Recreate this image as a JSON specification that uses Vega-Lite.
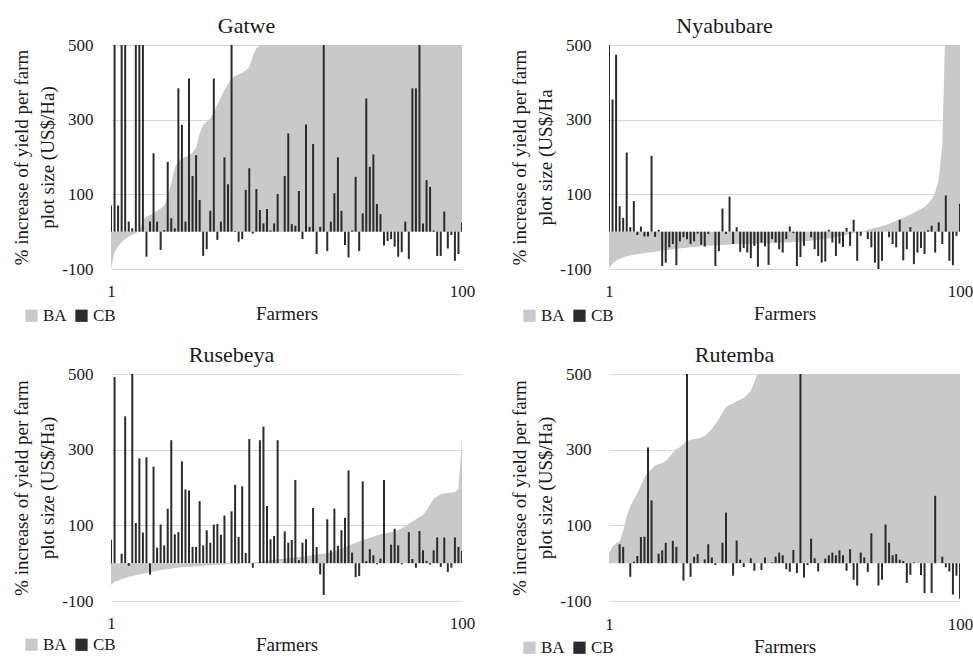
{
  "$schema": "https://vega.github.io/schema/vega-lite/v6.json",
  "padding": {"left": 12, "top": 15, "right": 0, "bottom": 0},
  "background": "white",
  "datasets": {
    "gatwe": [
      {"farmer": 1, "BA": -100, "CB": 70}, {"farmer": 2, "BA": -55, "CB": 620}, {"farmer": 3, "BA": -40, "CB": 70}, {"farmer": 4, "BA": -28, "CB": 620}, {"farmer": 5, "BA": -20, "CB": 620},
      {"farmer": 6, "BA": -13, "CB": 27}, {"farmer": 7, "BA": -8, "CB": 9}, {"farmer": 8, "BA": -4, "CB": 620}, {"farmer": 9, "BA": 1, "CB": 620}, {"farmer": 10, "BA": 31, "CB": 620},
      {"farmer": 11, "BA": 40, "CB": -67}, {"farmer": 12, "BA": 44, "CB": 27}, {"farmer": 13, "BA": 49, "CB": 210}, {"farmer": 14, "BA": 56, "CB": 27}, {"farmer": 15, "BA": 62, "CB": -49},
      {"farmer": 16, "BA": 70, "CB": 4}, {"farmer": 17, "BA": 95, "CB": 187}, {"farmer": 18, "BA": 130, "CB": 36}, {"farmer": 19, "BA": 172, "CB": 9}, {"farmer": 20, "BA": 188, "CB": 384},
      {"farmer": 21, "BA": 195, "CB": 286}, {"farmer": 22, "BA": 200, "CB": 27}, {"farmer": 23, "BA": 204, "CB": 410}, {"farmer": 24, "BA": 212, "CB": 149}, {"farmer": 25, "BA": 225, "CB": 205},
      {"farmer": 26, "BA": 262, "CB": 85}, {"farmer": 27, "BA": 286, "CB": -65}, {"farmer": 28, "BA": 295, "CB": -47}, {"farmer": 29, "BA": 304, "CB": 56}, {"farmer": 30, "BA": 322, "CB": 410},
      {"farmer": 31, "BA": 340, "CB": -22}, {"farmer": 32, "BA": 360, "CB": 27}, {"farmer": 33, "BA": 380, "CB": 199}, {"farmer": 34, "BA": 395, "CB": 127}, {"farmer": 35, "BA": 410, "CB": 620},
      {"farmer": 36, "BA": 417, "CB": 2}, {"farmer": 37, "BA": 421, "CB": -27}, {"farmer": 38, "BA": 425, "CB": -20}, {"farmer": 39, "BA": 432, "CB": 112}, {"farmer": 40, "BA": 441, "CB": 170},
      {"farmer": 41, "BA": 470, "CB": -5}, {"farmer": 42, "BA": 492, "CB": 114}, {"farmer": 43, "BA": 498, "CB": 58}, {"farmer": 44, "BA": 510, "CB": 22}, {"farmer": 45, "BA": 525, "CB": 61},
      {"farmer": 46, "BA": 540, "CB": 3}, {"farmer": 47, "BA": 560, "CB": 22}, {"farmer": 48, "BA": 580, "CB": 101}, {"farmer": 49, "BA": 600, "CB": 0}, {"farmer": 50, "BA": 620, "CB": 149},
      {"farmer": 51, "BA": 640, "CB": 263}, {"farmer": 52, "BA": 660, "CB": 20}, {"farmer": 53, "BA": 680, "CB": 16}, {"farmer": 54, "BA": 700, "CB": 109}, {"farmer": 55, "BA": 720, "CB": -20},
      {"farmer": 56, "BA": 740, "CB": 287}, {"farmer": 57, "BA": 760, "CB": 13}, {"farmer": 58, "BA": 780, "CB": 235}, {"farmer": 59, "BA": 800, "CB": -60}, {"farmer": 60, "BA": 830, "CB": 13},
      {"farmer": 61, "BA": 860, "CB": 620}, {"farmer": 62, "BA": 890, "CB": -52}, {"farmer": 63, "BA": 920, "CB": 27}, {"farmer": 64, "BA": 950, "CB": 103}, {"farmer": 65, "BA": 980, "CB": 199},
      {"farmer": 66, "BA": 1010, "CB": 56}, {"farmer": 67, "BA": 1040, "CB": -36}, {"farmer": 68, "BA": 1070, "CB": -69}, {"farmer": 69, "BA": 1100, "CB": 3}, {"farmer": 70, "BA": 1150, "CB": 147},
      {"farmer": 71, "BA": 1200, "CB": -52}, {"farmer": 72, "BA": 1250, "CB": 49}, {"farmer": 73, "BA": 1300, "CB": 357}, {"farmer": 74, "BA": 1350, "CB": 174}, {"farmer": 75, "BA": 1400, "CB": 207},
      {"farmer": 76, "BA": 1450, "CB": 74}, {"farmer": 77, "BA": 1500, "CB": 47}, {"farmer": 78, "BA": 1550, "CB": -37}, {"farmer": 79, "BA": 1600, "CB": -25}, {"farmer": 80, "BA": 1700, "CB": -20},
      {"farmer": 81, "BA": 1800, "CB": -40}, {"farmer": 82, "BA": 1900, "CB": -67}, {"farmer": 83, "BA": 2000, "CB": -55}, {"farmer": 84, "BA": 2100, "CB": 27}, {"farmer": 85, "BA": 2200, "CB": -73},
      {"farmer": 86, "BA": 2300, "CB": 384}, {"farmer": 87, "BA": 2400, "CB": 384}, {"farmer": 88, "BA": 2500, "CB": 620}, {"farmer": 89, "BA": 2600, "CB": 22}, {"farmer": 90, "BA": 2800, "CB": 138},
      {"farmer": 91, "BA": 3000, "CB": 120}, {"farmer": 92, "BA": 3200, "CB": 3}, {"farmer": 93, "BA": 3400, "CB": -65}, {"farmer": 94, "BA": 3600, "CB": -65}, {"farmer": 95, "BA": 3800, "CB": 54},
      {"farmer": 96, "BA": 4000, "CB": -45}, {"farmer": 97, "BA": 4500, "CB": -9}, {"farmer": 98, "BA": 5000, "CB": -78}, {"farmer": 99, "BA": 5500, "CB": -60}, {"farmer": 100, "BA": 6000, "CB": 24}
    ],
    "nyabubare": [
      {"farmer": 1, "BA": -98, "CB": 505}, {"farmer": 2, "BA": -85, "CB": 354}, {"farmer": 3, "BA": -78, "CB": 474}, {"farmer": 4, "BA": -73, "CB": 68}, {"farmer": 5, "BA": -69, "CB": 37},
      {"farmer": 6, "BA": -66, "CB": 212}, {"farmer": 7, "BA": -64, "CB": 12}, {"farmer": 8, "BA": -62, "CB": 82}, {"farmer": 9, "BA": -60, "CB": -9}, {"farmer": 10, "BA": -59, "CB": 14},
      {"farmer": 11, "BA": -57, "CB": -13}, {"farmer": 12, "BA": -56, "CB": -13}, {"farmer": 13, "BA": -55, "CB": 203}, {"farmer": 14, "BA": -54, "CB": -14}, {"farmer": 15, "BA": -52, "CB": 5},
      {"farmer": 16, "BA": -51, "CB": -92}, {"farmer": 17, "BA": -50, "CB": -83}, {"farmer": 18, "BA": -49, "CB": -42}, {"farmer": 19, "BA": -47, "CB": -33}, {"farmer": 20, "BA": -46, "CB": -90},
      {"farmer": 21, "BA": -45, "CB": -26}, {"farmer": 22, "BA": -44, "CB": -15}, {"farmer": 23, "BA": -43, "CB": -20}, {"farmer": 24, "BA": -42, "CB": -33}, {"farmer": 25, "BA": -41, "CB": -26},
      {"farmer": 26, "BA": -40, "CB": -5}, {"farmer": 27, "BA": -39, "CB": -35}, {"farmer": 28, "BA": -38, "CB": -40}, {"farmer": 29, "BA": -38, "CB": -6}, {"farmer": 30, "BA": -37, "CB": 0},
      {"farmer": 31, "BA": -37, "CB": -92}, {"farmer": 32, "BA": -36, "CB": -52}, {"farmer": 33, "BA": -36, "CB": 62}, {"farmer": 34, "BA": -35, "CB": -6}, {"farmer": 35, "BA": -35, "CB": 94},
      {"farmer": 36, "BA": -34, "CB": -33}, {"farmer": 37, "BA": -34, "CB": 12}, {"farmer": 38, "BA": -33, "CB": -54}, {"farmer": 39, "BA": -33, "CB": -44}, {"farmer": 40, "BA": -33, "CB": -56},
      {"farmer": 41, "BA": -32, "CB": -71}, {"farmer": 42, "BA": -32, "CB": -38}, {"farmer": 43, "BA": -32, "CB": -94}, {"farmer": 44, "BA": -31, "CB": -29}, {"farmer": 45, "BA": -31, "CB": -40},
      {"farmer": 46, "BA": -31, "CB": -89}, {"farmer": 47, "BA": -30, "CB": -20}, {"farmer": 48, "BA": -30, "CB": -29}, {"farmer": 49, "BA": -30, "CB": -47}, {"farmer": 50, "BA": -29, "CB": -56},
      {"farmer": 51, "BA": -29, "CB": -20}, {"farmer": 52, "BA": -29, "CB": 14}, {"farmer": 53, "BA": -28, "CB": -4}, {"farmer": 54, "BA": -28, "CB": -92}, {"farmer": 55, "BA": -27, "CB": -68},
      {"farmer": 56, "BA": -26, "CB": -38}, {"farmer": 57, "BA": -25, "CB": 0}, {"farmer": 58, "BA": -24, "CB": -15}, {"farmer": 59, "BA": -23, "CB": -47}, {"farmer": 60, "BA": -22, "CB": -65},
      {"farmer": 61, "BA": -21, "CB": -83}, {"farmer": 62, "BA": -20, "CB": -80}, {"farmer": 63, "BA": -18, "CB": 5}, {"farmer": 64, "BA": -16, "CB": -29}, {"farmer": 65, "BA": -14, "CB": -65},
      {"farmer": 66, "BA": -12, "CB": -32}, {"farmer": 67, "BA": -10, "CB": -41}, {"farmer": 68, "BA": -8, "CB": 10}, {"farmer": 69, "BA": -6, "CB": -38}, {"farmer": 70, "BA": -4, "CB": 32},
      {"farmer": 71, "BA": -2, "CB": -78}, {"farmer": 72, "BA": 0, "CB": -11}, {"farmer": 73, "BA": 2, "CB": 0}, {"farmer": 74, "BA": 5, "CB": -20}, {"farmer": 75, "BA": 8, "CB": -42},
      {"farmer": 76, "BA": 10, "CB": -83}, {"farmer": 77, "BA": 12, "CB": -100}, {"farmer": 78, "BA": 15, "CB": -78}, {"farmer": 79, "BA": 18, "CB": 0}, {"farmer": 80, "BA": 21, "CB": -15},
      {"farmer": 81, "BA": 25, "CB": -33}, {"farmer": 82, "BA": 29, "CB": -42}, {"farmer": 83, "BA": 33, "CB": 32}, {"farmer": 84, "BA": 37, "CB": -77}, {"farmer": 85, "BA": 42, "CB": -47},
      {"farmer": 86, "BA": 46, "CB": 12}, {"farmer": 87, "BA": 51, "CB": -87}, {"farmer": 88, "BA": 56, "CB": -56}, {"farmer": 89, "BA": 61, "CB": -44}, {"farmer": 90, "BA": 67, "CB": -60},
      {"farmer": 91, "BA": 75, "CB": 4}, {"farmer": 92, "BA": 86, "CB": 16}, {"farmer": 93, "BA": 105, "CB": -56}, {"farmer": 94, "BA": 140, "CB": 25}, {"farmer": 95, "BA": 230, "CB": -33},
      {"farmer": 96, "BA": 600, "CB": 97}, {"farmer": 97, "BA": 900, "CB": -78}, {"farmer": 98, "BA": 1100, "CB": -90}, {"farmer": 99, "BA": 1300, "CB": -11}, {"farmer": 100, "BA": 1500, "CB": 75}
    ],
    "rusebeya": [
      {"farmer": 1, "BA": -58, "CB": 62}, {"farmer": 2, "BA": -50, "CB": 492}, {"farmer": 3, "BA": -46, "CB": 0}, {"farmer": 4, "BA": -42, "CB": 25}, {"farmer": 5, "BA": -39, "CB": 388},
      {"farmer": 6, "BA": -36, "CB": -7}, {"farmer": 7, "BA": -34, "CB": 505}, {"farmer": 8, "BA": -32, "CB": 106}, {"farmer": 9, "BA": -30, "CB": 277}, {"farmer": 10, "BA": -28, "CB": 81},
      {"farmer": 11, "BA": -26, "CB": 280}, {"farmer": 12, "BA": -24, "CB": -30}, {"farmer": 13, "BA": -22, "CB": 255}, {"farmer": 14, "BA": -20, "CB": 41}, {"farmer": 15, "BA": -18, "CB": 102},
      {"farmer": 16, "BA": -17, "CB": 47}, {"farmer": 17, "BA": -16, "CB": 144}, {"farmer": 18, "BA": -15, "CB": 325}, {"farmer": 19, "BA": -13, "CB": 76}, {"farmer": 20, "BA": -12, "CB": 82},
      {"farmer": 21, "BA": -11, "CB": 269}, {"farmer": 22, "BA": -10, "CB": 195}, {"farmer": 23, "BA": -10, "CB": 192}, {"farmer": 24, "BA": -9, "CB": 43}, {"farmer": 25, "BA": -8, "CB": 43},
      {"farmer": 26, "BA": -8, "CB": 164}, {"farmer": 27, "BA": -7, "CB": 47}, {"farmer": 28, "BA": -6, "CB": 87}, {"farmer": 29, "BA": -6, "CB": 54}, {"farmer": 30, "BA": -5, "CB": 102},
      {"farmer": 31, "BA": -5, "CB": 104}, {"farmer": 32, "BA": -4, "CB": 75}, {"farmer": 33, "BA": -4, "CB": 126}, {"farmer": 34, "BA": -3, "CB": 0}, {"farmer": 35, "BA": -3, "CB": 137},
      {"farmer": 36, "BA": -2, "CB": 207}, {"farmer": 37, "BA": -2, "CB": 69}, {"farmer": 38, "BA": -1, "CB": 203}, {"farmer": 39, "BA": 0, "CB": 27}, {"farmer": 40, "BA": 1, "CB": 328},
      {"farmer": 41, "BA": 2, "CB": -12}, {"farmer": 42, "BA": 3, "CB": 0}, {"farmer": 43, "BA": 4, "CB": 325}, {"farmer": 44, "BA": 6, "CB": 361}, {"farmer": 45, "BA": 7, "CB": 151},
      {"farmer": 46, "BA": 8, "CB": 63}, {"farmer": 47, "BA": 9, "CB": 72}, {"farmer": 48, "BA": 10, "CB": 325}, {"farmer": 49, "BA": 11, "CB": 0}, {"farmer": 50, "BA": 12, "CB": 84},
      {"farmer": 51, "BA": 13, "CB": 54}, {"farmer": 52, "BA": 14, "CB": 61}, {"farmer": 53, "BA": 15, "CB": 220}, {"farmer": 54, "BA": 16, "CB": 8}, {"farmer": 55, "BA": 17, "CB": 54},
      {"farmer": 56, "BA": 18, "CB": 63}, {"farmer": 57, "BA": 20, "CB": 0}, {"farmer": 58, "BA": 21, "CB": 146}, {"farmer": 59, "BA": 23, "CB": 43}, {"farmer": 60, "BA": 24, "CB": -30},
      {"farmer": 61, "BA": 25, "CB": -84}, {"farmer": 62, "BA": 27, "CB": 116}, {"farmer": 63, "BA": 28, "CB": 34}, {"farmer": 64, "BA": 31, "CB": 144}, {"farmer": 65, "BA": 35, "CB": 46},
      {"farmer": 66, "BA": 39, "CB": 87}, {"farmer": 67, "BA": 42, "CB": 120}, {"farmer": 68, "BA": 46, "CB": 245}, {"farmer": 69, "BA": 50, "CB": 28}, {"farmer": 70, "BA": 54, "CB": -37},
      {"farmer": 71, "BA": 57, "CB": -34}, {"farmer": 72, "BA": 61, "CB": 216}, {"farmer": 73, "BA": 64, "CB": 6}, {"farmer": 74, "BA": 67, "CB": 37}, {"farmer": 75, "BA": 70, "CB": 21},
      {"farmer": 76, "BA": 73, "CB": -3}, {"farmer": 77, "BA": 76, "CB": 12}, {"farmer": 78, "BA": 78, "CB": 220}, {"farmer": 79, "BA": 80, "CB": 0}, {"farmer": 80, "BA": 82, "CB": 49},
      {"farmer": 81, "BA": 85, "CB": 91}, {"farmer": 82, "BA": 87, "CB": 47}, {"farmer": 83, "BA": 92, "CB": -3}, {"farmer": 84, "BA": 98, "CB": 0}, {"farmer": 85, "BA": 104, "CB": 82},
      {"farmer": 86, "BA": 110, "CB": 11}, {"farmer": 87, "BA": 116, "CB": -12}, {"farmer": 88, "BA": 122, "CB": 85}, {"farmer": 89, "BA": 128, "CB": 34}, {"farmer": 90, "BA": 140, "CB": 6},
      {"farmer": 91, "BA": 155, "CB": -4}, {"farmer": 92, "BA": 170, "CB": 34}, {"farmer": 93, "BA": 176, "CB": 68}, {"farmer": 94, "BA": 182, "CB": -10}, {"farmer": 95, "BA": 184, "CB": 68},
      {"farmer": 96, "BA": 186, "CB": -23}, {"farmer": 97, "BA": 187, "CB": -12}, {"farmer": 98, "BA": 188, "CB": 68}, {"farmer": 99, "BA": 196, "CB": 43}, {"farmer": 100, "BA": 330, "CB": 32}
    ],
    "rutemba": [
      {"farmer": 1, "BA": 24, "CB": 0}, {"farmer": 2, "BA": 45, "CB": 0}, {"farmer": 3, "BA": 52, "CB": 0}, {"farmer": 4, "BA": 58, "CB": 50}, {"farmer": 5, "BA": 85, "CB": 43},
      {"farmer": 6, "BA": 125, "CB": 0}, {"farmer": 7, "BA": 150, "CB": -36}, {"farmer": 8, "BA": 168, "CB": 4}, {"farmer": 9, "BA": 185, "CB": 19}, {"farmer": 10, "BA": 205, "CB": 69},
      {"farmer": 11, "BA": 227, "CB": 70}, {"farmer": 12, "BA": 238, "CB": 306}, {"farmer": 13, "BA": 248, "CB": 166}, {"farmer": 14, "BA": 258, "CB": 0}, {"farmer": 15, "BA": 262, "CB": 25},
      {"farmer": 16, "BA": 265, "CB": 34}, {"farmer": 17, "BA": 270, "CB": 54}, {"farmer": 18, "BA": 280, "CB": 0}, {"farmer": 19, "BA": 292, "CB": 59}, {"farmer": 20, "BA": 302, "CB": 43},
      {"farmer": 21, "BA": 307, "CB": 0}, {"farmer": 22, "BA": 315, "CB": -46}, {"farmer": 23, "BA": 322, "CB": 620}, {"farmer": 24, "BA": 326, "CB": -36}, {"farmer": 25, "BA": 328, "CB": 17},
      {"farmer": 26, "BA": 329, "CB": 24}, {"farmer": 27, "BA": 332, "CB": 0}, {"farmer": 28, "BA": 336, "CB": 10}, {"farmer": 29, "BA": 345, "CB": 50}, {"farmer": 30, "BA": 355, "CB": 15},
      {"farmer": 31, "BA": 368, "CB": -5}, {"farmer": 32, "BA": 382, "CB": 0}, {"farmer": 33, "BA": 398, "CB": 54}, {"farmer": 34, "BA": 412, "CB": 134}, {"farmer": 35, "BA": 418, "CB": 0},
      {"farmer": 36, "BA": 422, "CB": -33}, {"farmer": 37, "BA": 428, "CB": 60}, {"farmer": 38, "BA": 432, "CB": 9}, {"farmer": 39, "BA": 437, "CB": -10}, {"farmer": 40, "BA": 445, "CB": 0},
      {"farmer": 41, "BA": 456, "CB": 13}, {"farmer": 42, "BA": 478, "CB": -20}, {"farmer": 43, "BA": 505, "CB": 0}, {"farmer": 44, "BA": 520, "CB": -18}, {"farmer": 45, "BA": 540, "CB": 15},
      {"farmer": 46, "BA": 560, "CB": 0}, {"farmer": 47, "BA": 580, "CB": 2}, {"farmer": 48, "BA": 600, "CB": 17}, {"farmer": 49, "BA": 620, "CB": 28}, {"farmer": 50, "BA": 640, "CB": 21},
      {"farmer": 51, "BA": 660, "CB": -16}, {"farmer": 52, "BA": 680, "CB": -23}, {"farmer": 53, "BA": 700, "CB": 35}, {"farmer": 54, "BA": 720, "CB": -26}, {"farmer": 55, "BA": 740, "CB": 620},
      {"farmer": 56, "BA": 760, "CB": -38}, {"farmer": 57, "BA": 780, "CB": -5}, {"farmer": 58, "BA": 800, "CB": 65}, {"farmer": 59, "BA": 830, "CB": 13}, {"farmer": 60, "BA": 860, "CB": -22},
      {"farmer": 61, "BA": 890, "CB": 0}, {"farmer": 62, "BA": 920, "CB": 12}, {"farmer": 63, "BA": 950, "CB": 21}, {"farmer": 64, "BA": 980, "CB": 28}, {"farmer": 65, "BA": 1010, "CB": 21},
      {"farmer": 66, "BA": 1040, "CB": 34}, {"farmer": 67, "BA": 1070, "CB": 21}, {"farmer": 68, "BA": 1100, "CB": -20}, {"farmer": 69, "BA": 1150, "CB": 37}, {"farmer": 70, "BA": 1200, "CB": -44},
      {"farmer": 71, "BA": 1250, "CB": -59}, {"farmer": 72, "BA": 1300, "CB": 28}, {"farmer": 73, "BA": 1350, "CB": 15}, {"farmer": 74, "BA": 1400, "CB": -23}, {"farmer": 75, "BA": 1450, "CB": 79},
      {"farmer": 76, "BA": 1500, "CB": 0}, {"farmer": 77, "BA": 1550, "CB": -59}, {"farmer": 78, "BA": 1600, "CB": -44}, {"farmer": 79, "BA": 1700, "CB": 102}, {"farmer": 80, "BA": 1800, "CB": 54},
      {"farmer": 81, "BA": 1900, "CB": 21}, {"farmer": 82, "BA": 2000, "CB": 24}, {"farmer": 83, "BA": 2100, "CB": 9}, {"farmer": 84, "BA": 2200, "CB": 6}, {"farmer": 85, "BA": 2300, "CB": -52},
      {"farmer": 86, "BA": 2400, "CB": -31}, {"farmer": 87, "BA": 2500, "CB": 2}, {"farmer": 88, "BA": 2600, "CB": 0}, {"farmer": 89, "BA": 2800, "CB": -31}, {"farmer": 90, "BA": 3000, "CB": -79},
      {"farmer": 91, "BA": 3200, "CB": 0}, {"farmer": 92, "BA": 3400, "CB": -79}, {"farmer": 93, "BA": 3600, "CB": 178}, {"farmer": 94, "BA": 3800, "CB": 0}, {"farmer": 95, "BA": 4000, "CB": 17},
      {"farmer": 96, "BA": 4500, "CB": -11}, {"farmer": 97, "BA": 5000, "CB": -22}, {"farmer": 98, "BA": 5500, "CB": -83}, {"farmer": 99, "BA": 6000, "CB": -33}, {"farmer": 100, "BA": 6500, "CB": -94}
    ]
  },
  "columns": 2,
  "spacing": {"row": 20, "column": 35},
  "resolve": {"scale": {"color": "independent"}, "legend": {"color": "independent"}},
  "concat": [
    {
      "title": {"text": "Gatwe", "dx": -40},
      "width": 351,
      "height": 224,
      "data": {"name": "gatwe"},
      "encoding": {
        "x": {"field": "farmer", "type": "quantitative", "scale": {"domain": [1, 100], "nice": false, "zero": false, "padding": 0},
          "axis": {"values": [1, 100], "title": "Farmers", "grid": false, "domain": false, "ticks": false, "labelFlush": false, "labelPadding": 14, "titlePadding": 5}}
      },
      "layer": [
        {
          "mark": {"type": "area", "clip": true},
          "encoding": {
            "y": {"field": "BA", "type": "quantitative", "scale": {"domain": [-100, 500], "nice": false, "padding": 0},
              "axis": {"values": [-100, 100, 300, 500], "labelExpr": "'' + datum.value", "title": ["% increase of yield per farm", "plot size (US$/Ha)"], "ticks": false, "domain": false, "labelPadding": 18, "titlePadding": 4, "titleLineHeight": 26}},
            "color": {"datum": "BA", "scale": {"domain": ["BA", "CB"], "range": ["#c9c9c9", "#2b2b2b"]},
              "legend": {"orient": "none", "legendX": -88, "legendY": 262, "direction": "horizontal", "title": null}}
          }
        },
        {
          "mark": {"type": "bar", "clip": true, "width": 2},
          "encoding": {
            "y": {"field": "CB", "type": "quantitative"},
            "y2": {"datum": 0},
            "color": {"datum": "CB"}
          }
        }
      ]
    },
    {
      "title": {"text": "Nyabubare", "dx": -60},
      "width": 351,
      "height": 224,
      "data": {"name": "nyabubare"},
      "encoding": {
        "x": {"field": "farmer", "type": "quantitative", "scale": {"domain": [1, 100], "nice": false, "zero": false, "padding": 0},
          "axis": {"values": [1, 100], "title": "Farmers", "grid": false, "domain": false, "ticks": false, "labelFlush": false, "labelPadding": 14, "titlePadding": 5}}
      },
      "layer": [
        {
          "mark": {"type": "area", "clip": true},
          "encoding": {
            "y": {"field": "BA", "type": "quantitative", "scale": {"domain": [-100, 500], "nice": false, "padding": 0},
              "axis": {"values": [-100, 100, 300, 500], "labelExpr": "'' + datum.value", "title": ["% increase of yield per farm", "plot size (US$/Ha"], "ticks": false, "domain": false, "labelPadding": 18, "titlePadding": 4, "titleLineHeight": 26}},
            "color": {"datum": "BA", "scale": {"domain": ["BA", "CB"], "range": ["#c9c9c9", "#2b2b2b"]},
              "legend": {"orient": "none", "legendX": -88, "legendY": 262, "direction": "horizontal", "title": null}}
          }
        },
        {
          "mark": {"type": "bar", "clip": true, "width": 2},
          "encoding": {
            "y": {"field": "CB", "type": "quantitative"},
            "y2": {"datum": 0},
            "color": {"datum": "CB"}
          }
        }
      ]
    },
    {
      "title": {"text": "Rusebeya", "dx": -55},
      "width": 351,
      "height": 227,
      "data": {"name": "rusebeya"},
      "encoding": {
        "x": {"field": "farmer", "type": "quantitative", "scale": {"domain": [1, 100], "nice": false, "zero": false, "padding": 0},
          "axis": {"values": [1, 100], "title": "Farmers", "grid": false, "domain": false, "ticks": false, "labelFlush": false, "labelPadding": 14, "titlePadding": 4}}
      },
      "layer": [
        {
          "mark": {"type": "area", "clip": true},
          "encoding": {
            "y": {"field": "BA", "type": "quantitative", "scale": {"domain": [-100, 500], "nice": false, "padding": 0},
              "axis": {"values": [-100, 100, 300, 500], "labelExpr": "'' + datum.value", "title": ["% increase of yield per farm", "plot size (US$/Ha)"], "ticks": false, "domain": false, "labelPadding": 18, "titlePadding": 4, "titleLineHeight": 26}},
            "color": {"datum": "BA", "scale": {"domain": ["BA", "CB"], "range": ["#c9c9c9", "#2b2b2b"]},
              "legend": {"orient": "none", "legendX": -88, "legendY": 262, "direction": "horizontal", "title": null}}
          }
        },
        {
          "mark": {"type": "bar", "clip": true, "width": 2},
          "encoding": {
            "y": {"field": "CB", "type": "quantitative"},
            "y2": {"datum": 0},
            "color": {"datum": "CB"}
          }
        }
      ]
    },
    {
      "title": {"text": "Rutemba", "dx": -50},
      "width": 351,
      "height": 227,
      "data": {"name": "rutemba"},
      "encoding": {
        "x": {"field": "farmer", "type": "quantitative", "scale": {"domain": [1, 100], "nice": false, "zero": false, "padding": 0},
          "axis": {"values": [1, 100], "title": "Farmers", "grid": false, "domain": false, "ticks": false, "labelFlush": false, "labelPadding": 15, "titlePadding": 5}}
      },
      "layer": [
        {
          "mark": {"type": "area", "clip": true},
          "encoding": {
            "y": {"field": "BA", "type": "quantitative", "scale": {"domain": [-100, 500], "nice": false, "padding": 0},
              "axis": {"values": [-100, 100, 300, 500], "labelExpr": "'' + datum.value", "title": ["% increase of yield per farm", "plot size (US$/Ha)"], "ticks": false, "domain": false, "labelPadding": 18, "titlePadding": 4, "titleLineHeight": 26}},
            "color": {"datum": "BA", "scale": {"domain": ["BA", "CB"], "range": ["#c9c9c9", "#2b2b2b"]},
              "legend": {"orient": "none", "legendX": -88, "legendY": 265, "direction": "horizontal", "title": null}}
          }
        },
        {
          "mark": {"type": "bar", "clip": true, "width": 2},
          "encoding": {
            "y": {"field": "CB", "type": "quantitative"},
            "y2": {"datum": 0},
            "color": {"datum": "CB"}
          }
        }
      ]
    }
  ],
  "config": {
    "font": "Liberation Serif, DejaVu Serif, serif",
    "view": {"stroke": null},
    "axis": {"labelFontSize": 17, "titleFontSize": 19, "titleFontWeight": "normal", "labelColor": "#1a1a1a", "titleColor": "#1a1a1a", "gridColor": "#d9d9d9", "labelFont": "Liberation Serif, DejaVu Serif, serif", "titleFont": "Liberation Serif, DejaVu Serif, serif"},
    "title": {"fontSize": 22, "fontWeight": "normal", "color": "#1a1a1a", "offset": -2, "font": "Liberation Serif, DejaVu Serif, serif"},
    "legend": {"symbolType": "square", "symbolSize": 150, "symbolStrokeWidth": 0, "labelFontSize": 17, "labelFont": "Liberation Serif, DejaVu Serif, serif", "labelColor": "#1a1a1a", "columnPadding": 6, "labelOffset": 3}
  }
}
